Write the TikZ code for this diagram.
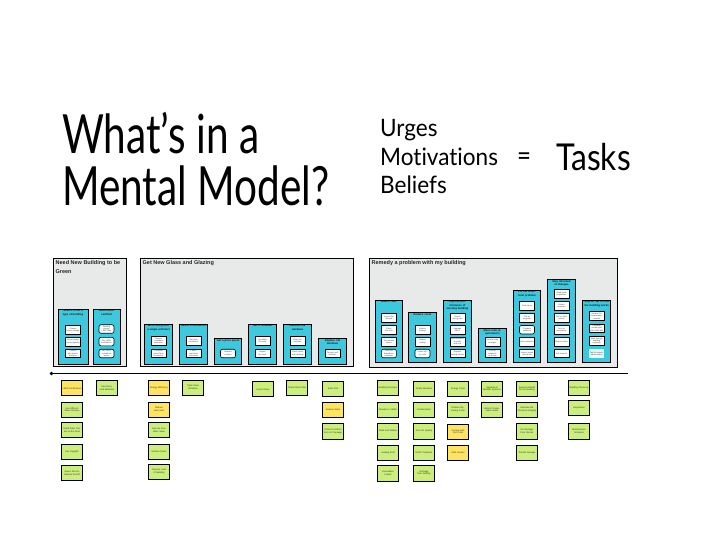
\documentclass[tikz,border=0pt]{standalone}
\usepackage{fontspec}
\newfontfamily\titlefont[FakeStretch=0.75,Ligatures=NoCommon]{Lato}
\newfontfamily\midfont[FakeStretch=0.94,Ligatures=NoCommon]{Lato}
\newfontfamily\tasksfont[FakeStretch=0.86]{Lato}
\newfontfamily\smallfont{Liberation Sans}
\definecolor{panelgray}{HTML}{E8E9E9}
\definecolor{colcyan}{HTML}{3EC8DD}
\definecolor{notegreen}{HTML}{CBEE7C}
\definecolor{noteyellow}{HTML}{FFE462}
\tikzset{
  panel/.style={draw=black, line width=0.8pt, fill=panelgray, inner sep=0, outer sep=0, anchor=north west},
  plabel/.style={anchor=north west, inner sep=0, align=left, font=\smallfont\bfseries\fontsize{5.5}{9}\selectfont, text=black!85},
  colbox/.style={draw=black, line width=0.8pt, fill=colcyan, inner sep=0, outer sep=0, anchor=north west},
  ctitle/.style={anchor=north, inner sep=0.8pt, text width=26pt, align=center, font=\smallfont\bfseries\fontsize{2.7}{3.2}\selectfont, text=black!90},
  ibox/.style={draw=black, line width=0.6pt, fill=white, minimum width=15pt, minimum height=8.5pt, inner sep=0.3pt, text width=13.5pt, align=center, font=\smallfont\fontsize{2}{2.4}\selectfont, text=black!75},
  rbox/.style={ibox, rounded corners=2pt},
  nbox/.style={ibox, draw=none, fill=white!90!colcyan},
  note/.style={draw=black, line width=1pt, minimum width=21pt, minimum height=15pt, inner sep=0.5pt, text width=19pt, align=center, font=\smallfont\fontsize{2.3}{2.8}\selectfont, text=black!80, fill=notegreen},
  ynote/.style={note, fill=noteyellow},
  big/.style={anchor=base west, inner sep=0, font=\titlefont\fontsize{54}{54}\selectfont},
  mid/.style={anchor=base west, inner sep=0, font=\midfont\fontsize{24}{24}\selectfont}
}
\begin{document}
\begin{tikzpicture}[x=1pt,y=-1pt]
\useasboundingbox (0,0) rectangle (728,546);
\fill[white] (0,0) rectangle (728,546);
% titles
\node[big] (t1) at (62,153) {What’s in a};
\node[big] (t2) at (62,205) {Mental Model?};
\node[mid] (u1) at (380,136) {Urges};
\node[mid] (u2) at (380,165) {Motivations};
\node[mid] (u3) at (380,193) {Beliefs};
\node[anchor=base west, inner sep=0, font=\tasksfont\fontsize{28}{28}\selectfont] (eq) at (517,165) {=};
\node[anchor=base west, inner sep=0, font=\tasksfont\fontsize{37}{37}\selectfont] (tasks) at (556,170) {Tasks};
% panels
\node[panel, minimum width=73pt, minimum height=108pt] (p1) at (53,258) {};
\node[plabel] (p1t) at (55.5,260) {Need New Building to be\\Green};
\node[panel, minimum width=213pt, minimum height=108pt] (p2) at (140,258) {};
\node[plabel] (p2t) at (142.5,260) {Get New Glass and Glazing};
\node[panel, minimum width=248pt, minimum height=109pt] (p3) at (369,258) {};
\node[plabel] (p3t) at (371.5,260) {Remedy a problem with my building};
% columns panel 1
\node[colbox, minimum width=30pt, minimum height=55pt] (ca) at (58,309) {};
\node[ctitle] at (ca.north) {Need it to be a type of building};
\node[colbox, minimum width=27pt, minimum height=55pt] (cb) at (93,309) {};
\node[ctitle] at (cb.north) {Need LEED certified};
\node[ibox] (ca1) at (73,329.7) {Choose interior design};
\node[ibox] (ca2) at (73,341.6) {Allow energy saving lighting};
\node[ibox] (ca3) at (73,353.5) {Consult with interior designer};
\node[rbox] (cb1) at (106.5,329) {Develop energy LEED plan};
\node[rbox] (cb2) at (106.5,341.6) {Get LEED certification};
\node[rbox] (cb3) at (106.5,353.5) {Get LEED consultant advice};
% columns panel 2
\node[colbox, minimum width=28.4pt, minimum height=40pt] (c1) at (144.3,324) {};
\node[ctitle] at (c1.north) {Work along with a single architect};
\node[ibox] (c1a) at (158.5,340.8) {Choose a window contractor};
\node[ibox] (c1b) at (158.5,353.5) {Compare prices from contractors};
\node[colbox, minimum width=28.4pt, minimum height=40pt] (c2) at (179.3,324) {};
\node[ctitle] at (c2.north) {Select a contractor};
\node[ibox] (c2a) at (193.5,340.8) {Interview contractors};
\node[ibox] (c2b) at (193.5,353.5) {Check contractor references};
\node[colbox, minimum width=27.4pt, minimum height=25.3pt] (c3) at (214.3,338.7) {};
\node[ctitle] at (c3.north) {Get a price quote};
\node[rbox] (c3a) at (228,353.5) {Request a quote};
\node[colbox, minimum width=28.4pt, minimum height=40pt] (c4) at (248.3,324) {};
\node[ctitle] at (c4.north) {Get it installed};
\node[ibox] (c4a) at (262.5,340.8) {Schedule the work};
\node[ibox] (c4b) at (262.5,353.5) {Inspect the work};
\node[colbox, minimum width=28.4pt, minimum height=40pt] (c5) at (283.3,324) {};
\node[ctitle] at (c5.north) {Maintain the windows};
\node[ibox] (c5a) at (297.5,340.8) {Clean the windows};
\node[ibox] (c5b) at (297.5,353.5) {Check seals and caulking};
\node[colbox, minimum width=28.4pt, minimum height=25.3pt] (c6) at (318.3,338.7) {};
\node[ctitle] at (c6.north) {Replace old windows};
\node[ibox] (c6a) at (332.5,353.5) {Recycle old windows};
% columns panel 3
\node[colbox, minimum width=27.7pt, minimum height=62.7pt] (d1) at (375,300) {};
\node[ctitle] at (d1.north) {Make it safe};
\node[ibox] (d1a) at (388.9,317.8) {Inspect for hazards};
\node[ibox] (d1b) at (388.9,329.7) {Check fire exits};
\node[ibox] (d1c) at (388.9,341.6) {Test smoke alarms};
\node[rbox] (d1d) at (388.9,353.5) {Remove hazardous materials};
\node[colbox, minimum width=28.4pt, minimum height=50pt] (d2) at (408.3,312.7) {};
\node[ctitle] at (d2.north) {Reduce costs};
\node[ibox] (d2a) at (422.5,329.7) {Reduce heating};
\node[ibox] (d2b) at (422.5,341.6) {Reduce cooling};
\node[rbox] (d2c) at (422.5,353.5) {Lower utility costs};
\node[colbox, minimum width=28.4pt, minimum height=62.7pt] (d3) at (443.3,300) {};
\node[ctitle] at (d3.north) {Improve performance of existing building};
\node[ibox] (d3a) at (457.5,317.8) {Assess energy use};
\node[ibox] (d3b) at (457.5,329.7) {Upgrade HVAC};
\node[ibox] (d3c) at (457.5,341.6) {Add insulation to walls and roof};
\node[ibox] (d3d) at (457.5,353.5) {Replace lighting fixtures};
\node[colbox, minimum width=28.4pt, minimum height=34.4pt] (d4) at (478.3,328.3) {};
\node[ctitle] at (d4.north) {Meet code requirements};
\node[ibox] (d4a) at (492.5,341.6) {Review code changes};
\node[ibox] (d4b) at (492.5,353.5) {Hire an inspector to review};
\node[colbox, minimum width=27.4pt, minimum height=72.7pt] (d5) at (513.3,290) {};
\node[ctitle] at (d5.north) {Fix the structural problem};
\node[ibox] (d5a) at (527,305.9) {Find cause};
\node[ibox] (d5b) at (527,317.8) {Get an engineer};
\node[rbox] (d5c) at (527,329.7) {Compare solutions};
\node[ibox] (d5d) at (527,341.6) {Hire contractor};
\node[ibox] (d5e) at (527,353.5) {Inspect repair work done};
\node[colbox, minimum width=28.4pt, minimum height=83.4pt] (d6) at (547.3,279.3) {};
\node[ctitle] at (d6.north) {Stay informed of changes};
\node[ibox] (d6a) at (561.5,294) {Read trade magazines};
\node[ibox] (d6b) at (561.5,305.9) {Attend seminars};
\node[ibox] (d6c) at (561.5,317.8) {Talk to other owners};
\node[ibox] (d6d) at (561.5,329.7) {Join an association};
\node[ibox] (d6e) at (561.5,341.6) {Search online};
\node[ibox] (d6f) at (561.5,353.5) {Ask experts};
\node[colbox, minimum width=28pt, minimum height=62.7pt] (d7) at (582.7,300) {};
\node[ctitle] at (d7.north) {Stay on top of how the building works};
\node[ibox] (d7a) at (596.7,316) {Review the maintenance records};
\node[ibox] (d7b) at (596.7,328.5) {Compare current and past utility bills};
\node[ibox] (d7c) at (596.7,341) {Walk through building regularly};
\node[nbox] (d7d) at (596.7,353.5) {Talk to tenants about issues};
% timeline line
\coordinate (ls) at (51.5,373.5);
\coordinate (le) at (628,373.5);
\draw[line width=1.4pt] (ls) -- (le);
\fill (ls) circle (1.8pt);
% sticky notes
\node[ynote] (n11) at (72,388.3) {LEED Certification};
\node[note] (n12) at (72,409.7) {Use Efficient Water Fixtures};
\node[note] (n13) at (72,430) {Install Solar Panels on the Roof};
\node[note] (n14) at (72,452) {Use Daylight};
\node[note] (n15) at (72,473.3) {Green Roof to Reduce Runoff};
\node[note] (n21) at (107,388) {Use Recycled Materials};
\node[ynote] (n31) at (159,388.3) {Energy Efficiency};
\node[ynote] (n32) at (159,409.5) {Reduce Heat Gain};
\node[note] (n33) at (159,430) {Improve Insulation Value};
\node[note] (n34) at (159,452) {Reduce Noise};
\node[note] (n35) at (159,471.7) {Improve Look of Building};
\node[note] (n41) at (193,387.5) {Triple Pane Windows};
\node[note] (n51) at (263,389.2) {Low-E Glass};
\node[note] (n61) at (297,387.5) {Tinted Glass Film};
\node[note] (n71) at (333,389) {Solar Film};
\node[ynote] (n72) at (333,409.7) {Reduce Glare};
\node[note, minimum height=16pt] (n73) at (333,431) {Protect Furniture from UV Damage};
\node[note] (n81) at (388,388.3) {Building Envelope};
\node[note] (n82) at (388,409.7) {Moisture in Walls};
\node[note, minimum height=16pt] (n83) at (388,431) {Mold and Mildew};
\node[note] (n84) at (388,452.7) {Leaking Roof};
\node[note, minimum height=16pt] (n85) at (388,473) {Foundation Cracks};
\node[note] (n91) at (424,389) {Drafty Windows};
\node[note] (n92) at (424,409.7) {Condensation};
\node[note, minimum height=16pt] (n93) at (424,431) {Poor Air Quality};
\node[note] (n94) at (424,452.7) {HVAC Problems};
\node[note, minimum height=16pt] (n95) at (424,473) {Damage from Settling};
\node[note] (na1) at (458,389) {Energy Costs};
\node[note] (na2) at (458,409.7) {Reduce Operating Costs};
\node[ynote] (na3) at (458,431.7) {Comply with Fire Code};
\node[ynote] (na4) at (458,452.7) {ADA Access};
\node[note] (nb1) at (492,389) {Upgrade to Modern Systems};
\node[note] (nb2) at (492,409.7) {Historic Preservation Rules};
\node[note] (nc1) at (527,389) {Seismic Retrofit for the Building};
\node[note] (nc2) at (527,409.7) {Evaluate the Structural Integrity};
\node[note, minimum height=16pt] (nc3) at (527,431) {Fix Damage from Storms};
\node[note] (nc4) at (527,452.7) {Termite Damage};
\node[note] (nd1) at (579,388) {Building Check-up};
\node[note] (nd2) at (579,408) {Inspections};
\node[note, minimum height=16pt] (nd3) at (579,431) {Maintenance Schedule};
\end{tikzpicture}
\end{document}
